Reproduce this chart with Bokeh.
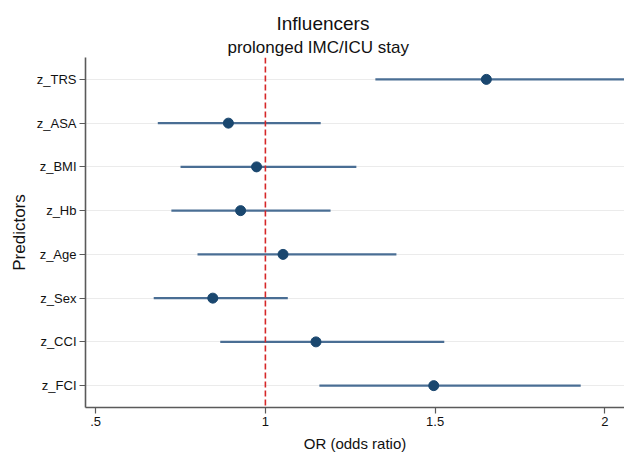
from bokeh.plotting import figure
from bokeh.models import FactorRange, Range1d, Span, FixedTicker, Title
from bokeh.embed import file_html
from bokeh.resources import INLINE

# Odds ratios with 95% confidence limits per predictor (bottom to top)
predictors = ["z_FCI", "z_CCI", "z_Sex", "z_Age", "z_Hb", "z_BMI", "z_ASA", "z_TRS"]
odds_ratio = [1.496, 1.149, 0.845, 1.052, 0.927, 0.974, 0.891, 1.651]
ci_low = [1.159, 0.867, 0.671, 0.800, 0.723, 0.750, 0.683, 1.324]
ci_high = [1.929, 1.527, 1.066, 1.386, 1.192, 1.268, 1.163, 2.100]

x_ticks = [0.5, 1.0, 1.5, 2.0]
x_tick_labels = [".5", "1", "1.5", "2"]

FONT = "Liberation Sans"
AXIS_GREY = "#5a5a5a"

p = figure(
    width=624, height=454,
    y_range=FactorRange(factors=predictors, range_padding=0),
    x_range=Range1d(0.47, 2.058),
    output_backend="svg", toolbar_location=None,
    min_border_left=85, min_border_right=0,
    min_border_top=57, min_border_bottom=40,
    title=None,
)
p.outline_line_color = None
p.background_fill_color = "white"
p.border_fill_color = "white"

# two-line heading: subtitle sits closest to the frame
p.add_layout(Title(text="prolonged IMC/ICU stay", text_font=FONT, text_font_size="17px",
                   text_font_style="normal", text_color="#111111", align="left",
                   offset=142, standoff=2), "above")
p.add_layout(Title(text="Influencers", text_font=FONT, text_font_size="19px",
                   text_font_style="normal", text_color="#111111", align="left",
                   offset=191, standoff=2), "above")

# grid: horizontal lines only
p.xgrid.grid_line_color = None
p.ygrid.grid_line_color = "#ebebeb"
p.ygrid.grid_line_width = 1.2

# x axis
p.xaxis.ticker = FixedTicker(ticks=x_ticks)
p.xaxis.major_label_overrides = dict(zip(x_ticks, x_tick_labels))
p.xaxis.minor_tick_line_color = None
p.xaxis.axis_label = "OR (odds ratio)"

# y axis
p.yaxis.axis_label = "Predictors"

for ax in (p.xaxis[0], p.yaxis[0]):
    ax.axis_line_color = AXIS_GREY
    ax.axis_line_width = 1.6
    ax.major_tick_line_color = AXIS_GREY
    ax.major_tick_line_width = 1.2
    ax.major_tick_out = 6
    ax.major_tick_in = 0
    ax.major_label_text_font = FONT
    ax.major_label_text_font_size = "13px"
    ax.major_label_text_color = "#111111"
    ax.major_label_standoff = 3
    ax.axis_label_text_font = FONT
    ax.axis_label_text_font_style = "normal"
    ax.axis_label_text_color = "#111111"
    ax.axis_label_standoff = 6

p.xaxis.axis_label_text_font_size = "15px"
p.yaxis.axis_label_text_font_size = "17px"
p.yaxis.axis_label_standoff = 5

# reference line at OR = 1
p.add_layout(Span(location=1.0, dimension="height", line_color="#d62728",
                  line_width=1.6, line_dash="6 3"))

# confidence intervals and point estimates
p.segment(x0=ci_low, x1=ci_high, y0=predictors, y1=predictors,
          line_color="#4a6e94", line_width=2.4)
p.scatter(x=odds_ratio, y=predictors, size=10, marker="circle",
          fill_color="#1a476f", line_color="#1a476f")

open("out.html", "w").write(file_html(p, INLINE))
